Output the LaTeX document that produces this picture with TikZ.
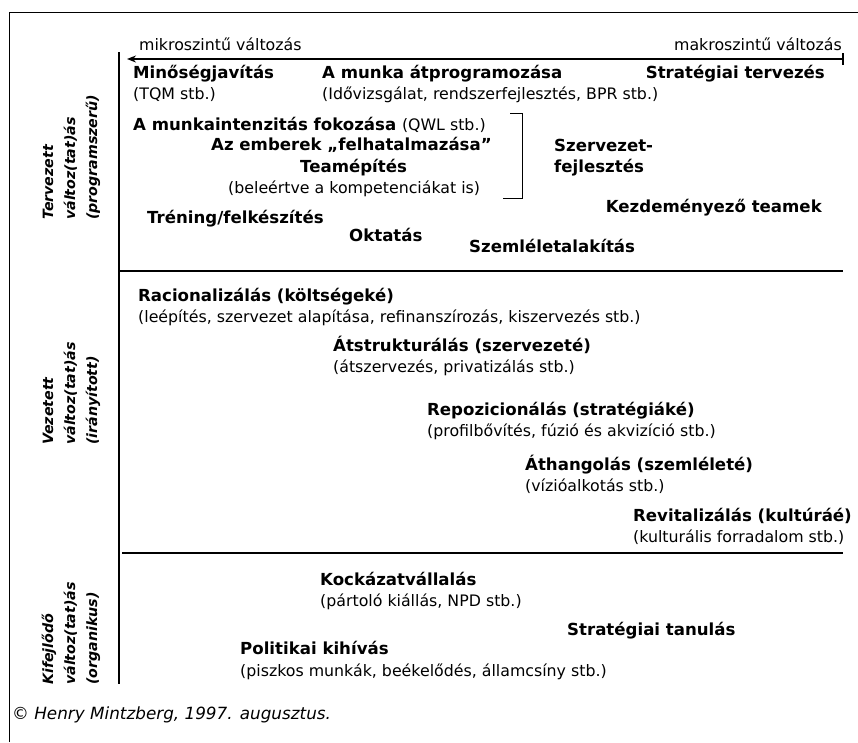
\documentclass[tikz,border=0pt]{standalone}
\usepackage{fontspec}
\setmainfont{DejaVu Sans}
\usetikzlibrary{arrows.meta}
\tikzset{
  bl/.style={anchor=base west, inner sep=0pt, font=\bfseries\fontsize{16.6}{19}\selectfont},
  rg/.style={anchor=base west, inner sep=0pt, font=\fontsize{15.8}{18}\selectfont},
  sidelab/.style={anchor=base west, inner sep=0pt, rotate=90, font=\bfseries\itshape\fontsize{14.2}{16}\selectfont},
  rule/.style={line width=1.6pt, black},
}
\begin{document}
\begin{tikzpicture}[x=1pt,y=-1pt]
\useasboundingbox (0,0) rectangle (858,742);
% frame
\coordinate (f1) at (9.5,742);
\coordinate (f2) at (9.5,12);
\coordinate (f3) at (858,12);
\draw[line width=0.9pt] (f1) -- (f2) -- (f3);
% axis
\coordinate (ax1) at (119,52);
\coordinate (ax2) at (119,684);
\draw[rule] (ax1) -- (ax2);
\coordinate (ar1) at (843,59);
\coordinate (ar2) at (127,59);
\draw[rule, -{Stealth[length=9pt,width=7pt]}] (ar1) -- (ar2);
\coordinate (tk1) at (843,53);
\coordinate (tk2) at (843,65);
\draw[rule] (tk1) -- (tk2);
\coordinate (d1a) at (119,271);
\coordinate (d1b) at (843,271);
\draw[rule] (d1a) -- (d1b);
\coordinate (d2a) at (122,553);
\coordinate (d2b) at (843,553);
\draw[rule] (d2a) -- (d2b);
% bracket
\coordinate (b1) at (510,113);
\coordinate (b2) at (522,113);
\coordinate (b3) at (522,198);
\coordinate (b4) at (503,198);
\draw[line width=0.9pt] (b1) -- (b2) -- (b3) -- (b4);

% axis labels
\node[rg] (mikro) at (139,50) {mikroszintű változás};
\node[rg, anchor=base east] (makro) at (842,50) {makroszintű változás};

% section 1
\node[bl] (minoseg) at (133,78) {Minőségjavítás};
\node[rg] (tqm) at (133,99) {(TQM stb.)};
\node[bl] (munka) at (322,78) {A munka átprogramozása};
\node[rg] (idov) at (322,99) {(Idővizsgálat, rendszerfejlesztés, BPR stb.)};
\node[bl, anchor=base east] (strat) at (825,78) {Stratégiai tervezés};
\node[bl] (intenz) at (133,130) {A munkaintenzitás fokozása {\mdseries\fontsize{15.8}{18}\selectfont(QWL stb.)}};
\node[bl] (emberek) at (211,150) {Az emberek „felhatalmazása”};
\node[bl] (team) at (300,172) {Teamépítés};
\node[rg] (bele) at (228,193) {(beleértve a kompetenciákat is)};
\node[bl] (szerv1) at (554,151) {Szervezet-};
\node[bl] (szerv2) at (554,172) {fejlesztés};
\node[bl, anchor=base east] (kezd) at (822,212) {Kezdeményező teamek};
\node[bl] (trening) at (147,223) {Tréning/felkészítés};
\node[bl] (oktatas) at (349,241) {Oktatás};
\node[bl] (szeml) at (469,252) {Szemléletalakítás};

% section 2
\node[bl] (racio) at (138,301) {Racionalizálás (költségeké)};
\node[rg] (leep) at (138,322) {(leépítés, szervezet alapítása, refinanszírozás, kiszervezés stb.)};
\node[bl] (atstr) at (333,351) {Átstrukturálás (szervezeté)};
\node[rg] (atsz) at (333,372) {(átszervezés, privatizálás stb.)};
\node[bl] (repoz) at (427,415) {Repozicionálás (stratégiáké)};
\node[rg] (profil) at (427,436) {(profilbővítés, fúzió és akvizíció stb.)};
\node[bl] (athang) at (525,470) {Áthangolás (szemléleté)};
\node[rg] (vizio) at (525,491) {(vízióalkotás stb.)};
\node[bl] (revit) at (633,521) {Revitalizálás (kultúráé)};
\node[rg] (kult) at (633,542) {(kulturális forradalom stb.)};

% section 3
\node[bl] (kock) at (320,585) {Kockázatvállalás};
\node[rg] (partolo) at (320,606) {(pártoló kiállás, NPD stb.)};
\node[bl] (strtan) at (567,635) {Stratégiai tanulás};
\node[bl] (polit) at (240,654) {Politikai kihívás};
\node[rg] (piszk) at (240,676) {(piszkos munkák, beékelődés, államcsíny stb.)};

% side labels
\node[sidelab] (s1a) at (53,220) {Tervezett};
\node[sidelab] (s1b) at (75,220) {változ(tat)ás};
\node[sidelab] (s1c) at (97,220) {(programszerű)};
\node[sidelab] (s2a) at (53,445) {Vezetett};
\node[sidelab] (s2b) at (75,445) {változ(tat)ás};
\node[sidelab] (s2c) at (97,445) {(irányított)};
\node[sidelab] (s3a) at (53,685) {Kifejlődő};
\node[sidelab] (s3b) at (75,685) {változ(tat)ás};
\node[sidelab] (s3c) at (97,685) {(organikus)};

% footer
\node[rg, font=\itshape\fontsize{16.8}{19}\selectfont] (copy) at (12,719) {© Henry Mintzberg, 1997. augusztus.};
\end{tikzpicture}
\end{document}
